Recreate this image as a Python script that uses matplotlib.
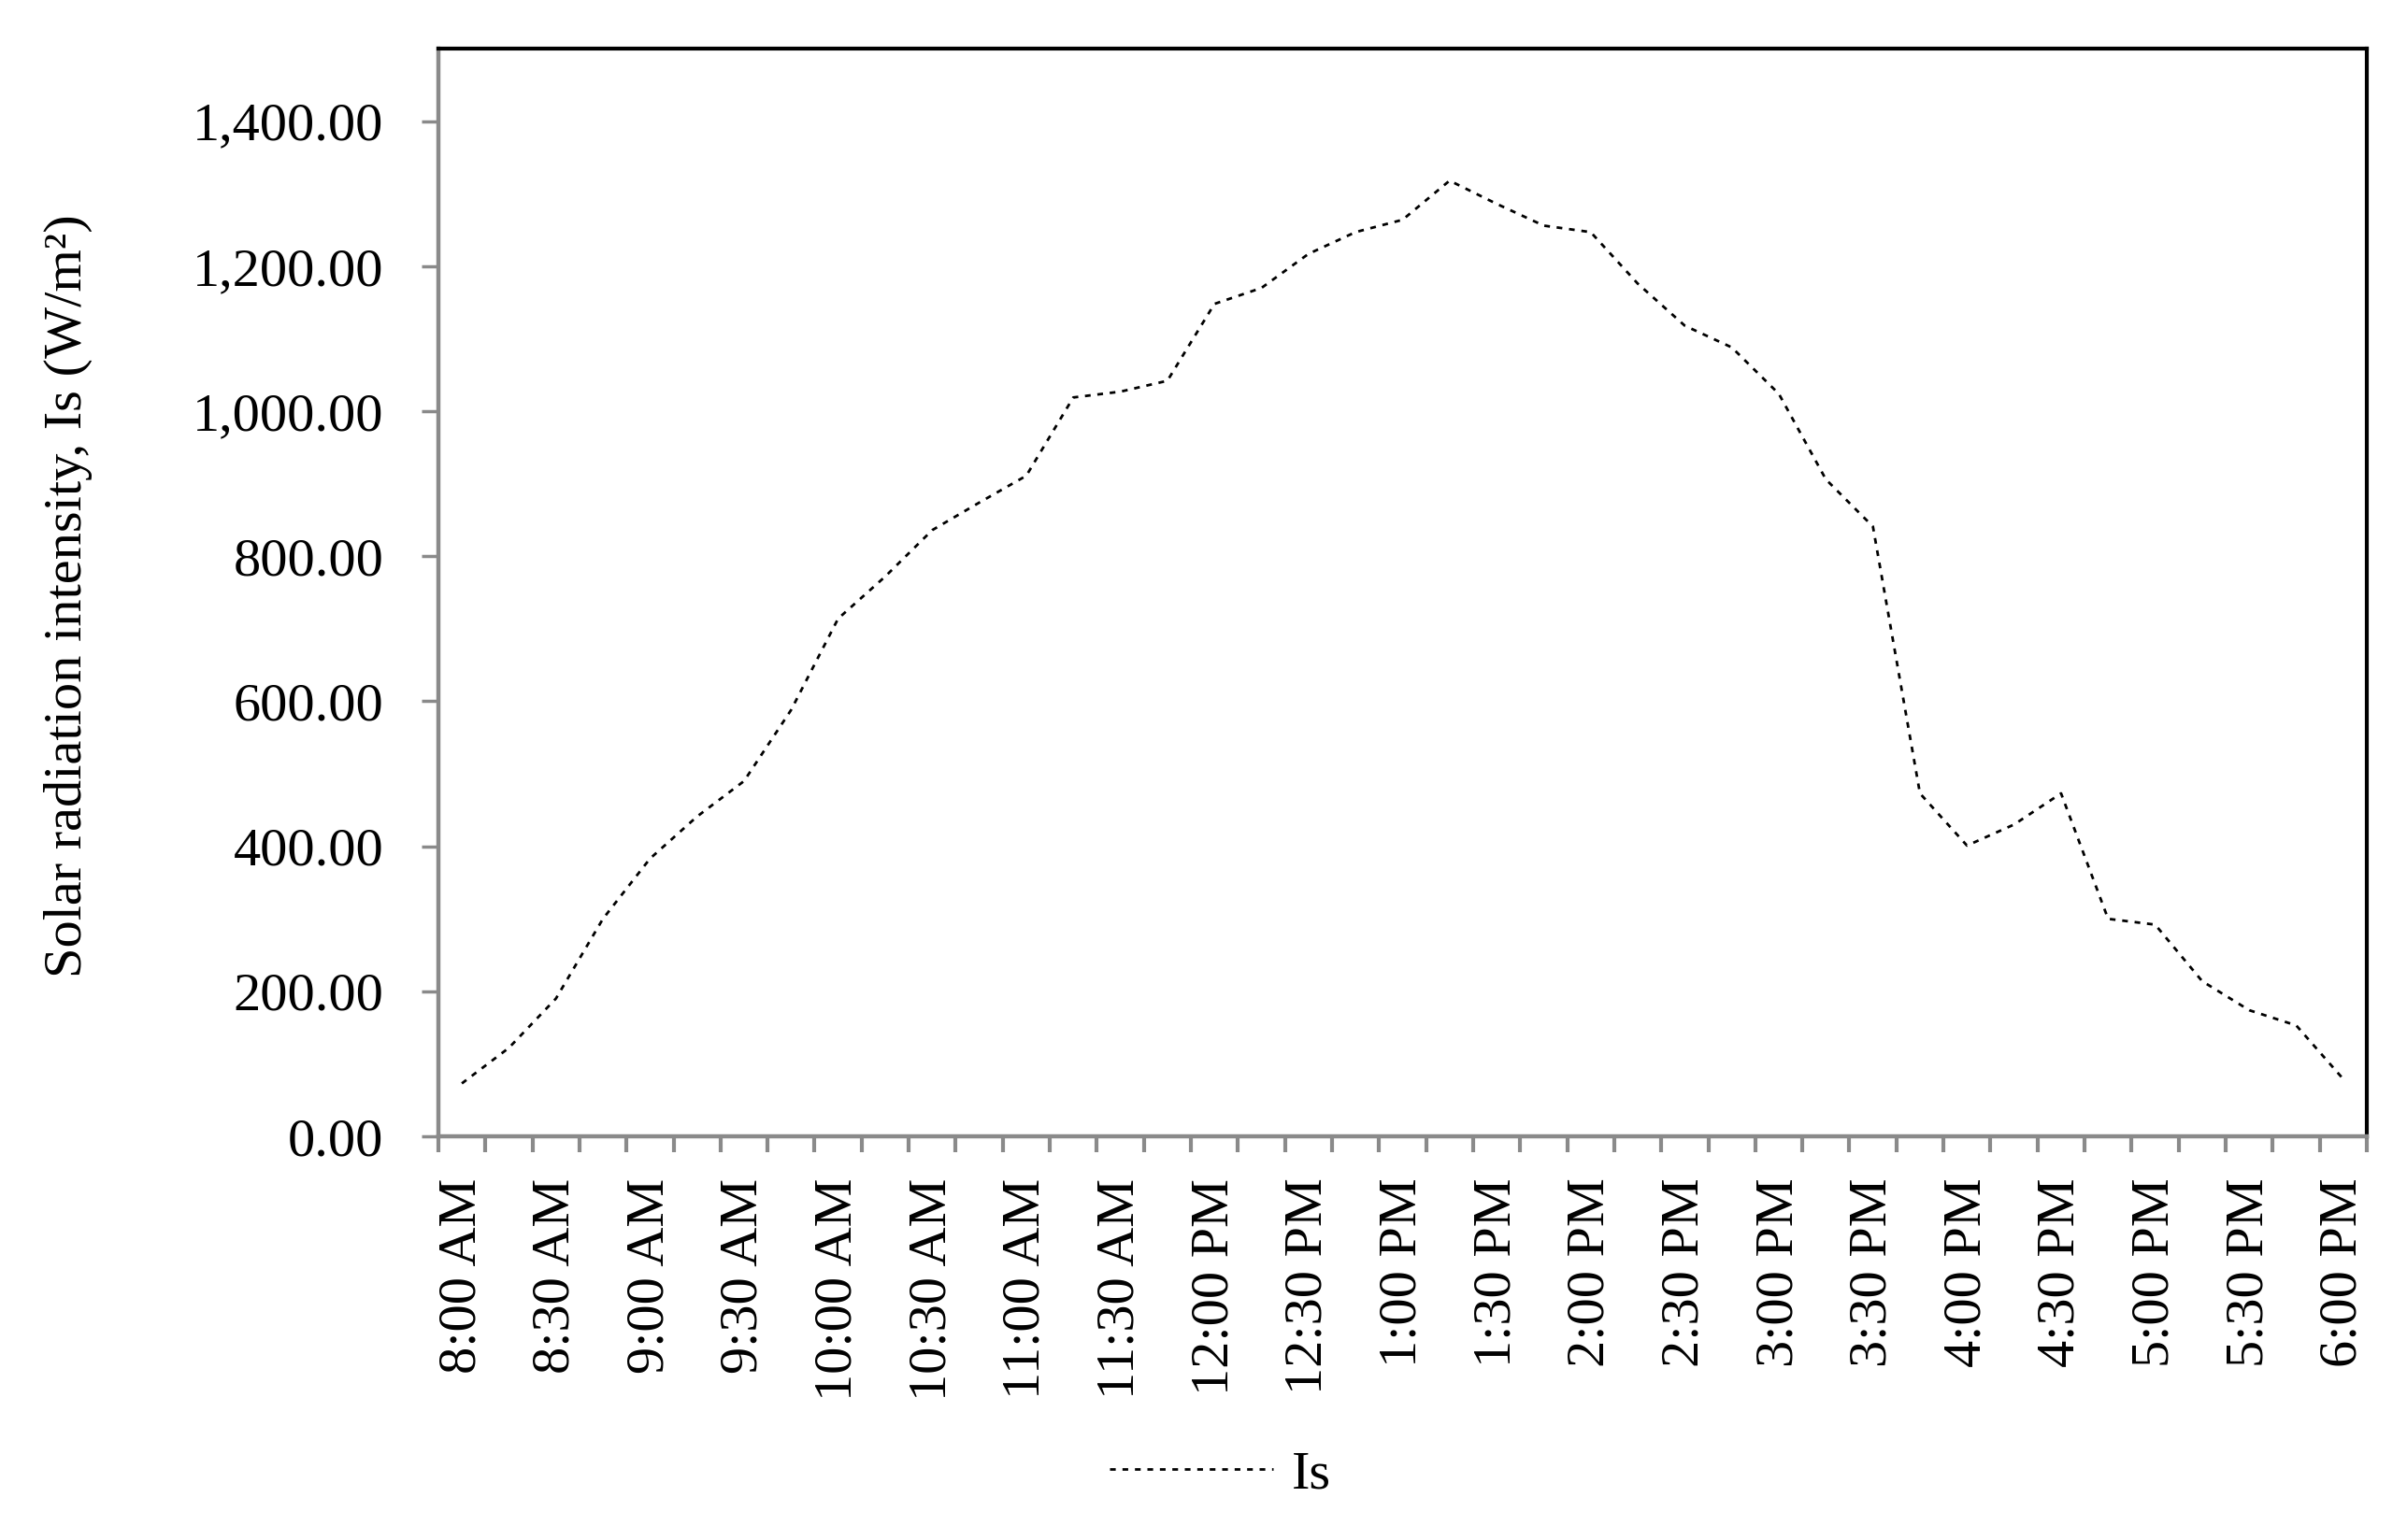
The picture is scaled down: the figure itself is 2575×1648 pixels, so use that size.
import numpy as np
import matplotlib
matplotlib.use('Agg')
import matplotlib.pyplot as plt

plt.rcParams['font.family'] = ['Liberation Serif', 'DejaVu Serif']

# 15-minute readings, 8:00 AM .. 6:00 PM
solar_is = [73, 122, 190, 300, 383, 441, 490, 588, 714, 772,
            836, 874, 911, 1019, 1027, 1042, 1148, 1170, 1217, 1247,
            1264, 1318, 1286, 1256, 1247, 1176, 1118, 1088, 1024, 906,
            841, 473, 401, 430, 473, 300, 292, 214, 174, 153, 79]

time_labels = ['8:00 AM', '8:30 AM', '9:00 AM', '9:30 AM', '10:00 AM',
               '10:30 AM', '11:00 AM', '11:30 AM', '12:00 PM', '12:30 PM',
               '1:00 PM', '1:30 PM', '2:00 PM', '2:30 PM', '3:00 PM',
               '3:30 PM', '4:00 PM', '4:30 PM', '5:00 PM', '5:30 PM', '6:00 PM']

y_ticks = [0, 200, 400, 600, 800, 1000, 1200, 1400]
y_tick_labels = ['0.00', '200.00', '400.00', '600.00', '800.00',
                 '1,000.00', '1,200.00', '1,400.00']

fs = 42
grey = '#8a8a8a'

fig = plt.figure(figsize=(25.75, 16.48), dpi=100)
ax = fig.add_axes([0.1821, 0.2621, 0.8012, 0.7063])

x = np.arange(len(solar_is))
ax.plot(x, solar_is, color='black', linewidth=2.0, linestyle=(0, (2.2, 2.6)), label='Is')

ax.set_xlim(-0.5, len(solar_is) - 0.5)
ax.set_ylim(0, 1500)

# labels at every second category, tick marks on category boundaries
ax.set_xticks(np.arange(0, len(solar_is), 2))
ax.set_xticklabels(time_labels, rotation=90, fontsize=fs)
ax.set_xticks(np.arange(len(solar_is) + 1) - 0.5, minor=True)
ax.tick_params(axis='x', which='major', length=0, pad=32)
ax.tick_params(axis='x', which='minor', length=12, width=3, color=grey, direction='out')

ax.set_yticks(y_ticks)
ax.set_yticklabels(y_tick_labels, fontsize=fs)
ax.tick_params(axis='y', length=13, width=2.5, color=grey, direction='out', pad=29)

for side in ['left', 'bottom']:
    ax.spines[side].set_color(grey)
    ax.spines[side].set_linewidth(3.2)
for side in ['top', 'right']:
    ax.spines[side].set_color('black')
    ax.spines[side].set_linewidth(3)

fig.text(0.0285, 0.613, 'Solar radiation intensity, Is (W/m²)', rotation=90,
         ha='center', va='center', fontsize=fs)

fig.legend(loc='center', bbox_to_anchor=(0.507, 0.0425), frameon=False,
           fontsize=fs, handlelength=3.0, handletextpad=0.35)

fig.savefig('out.png', dpi=100)
